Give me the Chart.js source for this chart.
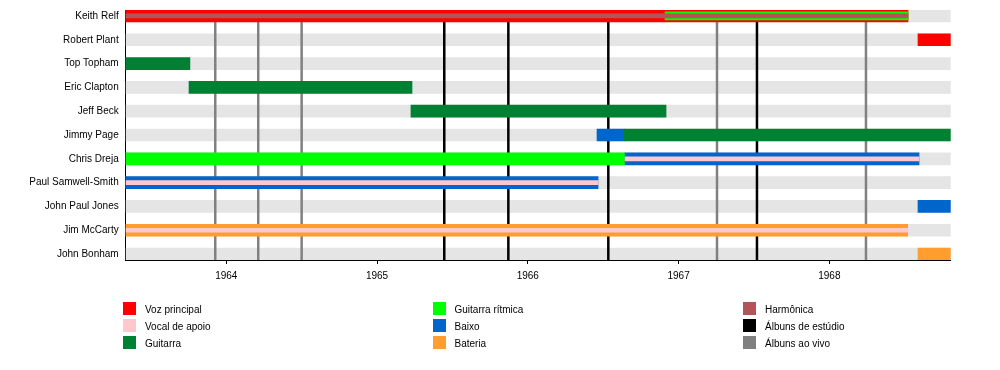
<!DOCTYPE html>
<html>
<head>
<meta charset="utf-8">
<script src="https://cdn.jsdelivr.net/npm/chart.js@4.4.1/dist/chart.umd.min.js"></script>
<style>
  body { margin: 0; background: #fff; font-family: "Liberation Sans", Arial, sans-serif; }
  #wrap { position: relative; width: 1000px; height: 370px; }
  .leg { position: absolute; font-size: 10px; color: #000; line-height: 13px; white-space: nowrap; }
  .leg span { position: absolute; left: 0; top: 0; width: 13px; height: 13px; }
  .leg b { position: absolute; left: 22px; top: 1px; font-weight: normal; }
</style>
</head>
<body>
<div id="wrap">
  <canvas id="chart" width="1000" height="370"></canvas>
</div>
<script>
const members = ['Keith Relf', 'Robert Plant', 'Top Topham', 'Eric Clapton', 'Jeff Beck', 'Jimmy Page',
  'Chris Dreja', 'Paul Samwell-Smith', 'John Paul Jones', 'Jim McCarty', 'John Bonham'];

const START = 1963.333;
const END = 1968.805;
const yearTicks = [1964, 1965, 1966, 1967, 1968];

// álbuns (linhas verticais)
const studioAlbums = [1965.446, 1965.871, 1966.534, 1967.52];
const liveAlbums = [1963.927, 1964.212, 1964.5, 1967.255, 1968.243];

const colors = {
  vocal: '#ff0000',
  backing: '#ffc8cc',
  guitar: '#008033',
  rhythm: '#00ff00',
  bass: '#0066cc',
  drums: '#ff9d2e',
  harmonica: '#b4545a'
};

// barras principais
const mainRow  = [0, 1, 2, 3, 4, 5, 5, 6, 6, 7, 8, 9, 10];
const mainFrom = [START, 1968.588, START, 1963.753, 1965.225, 1966.459, 1966.64, START, 1966.645, START, 1968.588, START, 1968.588];
const mainTo   = [1968.522, END, 1963.759, 1965.232, 1966.917, 1966.64, END, 1966.645, 1968.595, 1966.466, END, 1968.52, END];
const mainRole = ['vocal', 'vocal', 'guitar', 'guitar', 'guitar', 'bass', 'guitar', 'rhythm', 'bass', 'bass', 'bass', 'drums', 'drums'];

// faixa do meio (guitarra rítmica do Keith)
const midRow  = [0];
const midFrom = [1966.91];
const midTo   = [1968.522];
const midRole = ['rhythm'];

// faixa central fina
const innerRow  = [0, 6, 7, 9];
const innerFrom = [START, 1966.645, START, START];
const innerTo   = [1968.522, 1968.595, 1966.466, 1968.52];
const innerRole = ['harmonica', 'backing', 'backing', 'backing'];

const legendLabels = ['Voz principal', 'Vocal de apoio', 'Guitarra', 'Guitarra rítmica', 'Baixo', 'Bateria',
  'Harmônica', 'Álbuns de estúdio', 'Álbuns ao vivo'];
const legendColors = [colors.vocal, colors.backing, colors.guitar, colors.rhythm, colors.bass, colors.drums,
  colors.harmonica, '#000000', '#808080'];

function toPoints(rows, from, to) {
  return rows.map((r, i) => ({ x: [from[i], to[i]], y: r }));
}

// linhas dos álbuns, entre o fundo cinza e as barras
const albumLines = {
  id: 'albumLines',
  afterDatasetDraw(chart, args) {
    if (args.index !== 0) return;
    const { ctx, chartArea, scales: { x } } = chart;
    ctx.save();
    const draw = (vals, color) => {
      ctx.strokeStyle = color;
      ctx.lineWidth = 2.5;
      vals.forEach(v => {
        const px = x.getPixelForValue(v);
        ctx.beginPath();
        ctx.moveTo(px, chartArea.top);
        ctx.lineTo(px, chartArea.bottom);
        ctx.stroke();
      });
    };
    draw(liveAlbums, '#808080');
    draw(studioAlbums, '#000000');
    ctx.restore();
  }
};

new Chart(document.getElementById('chart'), {
  type: 'bar',
  data: {
    datasets: [
      {
        data: toPoints(members.map((m, i) => i), members.map(() => START), members.map(() => END)),
        backgroundColor: '#e5e5e5',
        barThickness: 12,
        order: 10
      },
      {
        data: toPoints(mainRow, mainFrom, mainTo),
        backgroundColor: mainRole.map(r => colors[r]),
        barThickness: 12,
        order: 3
      },
      {
        data: toPoints(midRow, midFrom, midTo),
        backgroundColor: midRole.map(r => colors[r]),
        barThickness: 8,
        order: 2
      },
      {
        data: toPoints(innerRow, innerFrom, innerTo),
        backgroundColor: innerRole.map(r => colors[r]),
        barThickness: 4,
        order: 1
      }
    ]
  },
  options: {
    indexAxis: 'y',
    responsive: false,
    animation: false,
    datasets: { bar: { grouped: false } },
    layout: { padding: { top: 10, right: 49.3, bottom: 0, left: 0 } },
    plugins: { legend: { display: false }, tooltip: { enabled: false } },
    scales: {
      x: {
        type: 'linear',
        min: START,
        max: END,
        offset: false,
        afterBuildTicks: s => { s.ticks = yearTicks.map(v => ({ value: v })); },
        afterFit: s => { s.height = 110; s.paddingLeft = 0; s.paddingRight = 0; },
        ticks: { callback: v => String(v), color: '#000', font: { family: 'Liberation Sans', size: 10 }, padding: 6, maxRotation: 0, autoSkip: false },
        grid: { display: true, drawOnChartArea: false, drawTicks: true, tickLength: 4, color: '#000' },
        border: { display: true, color: '#000', width: 1 }
      },
      y: {
        type: 'linear',
        reverse: true,
        offset: false,
        min: -0.25,
        max: 10.25,
        afterBuildTicks: s => { s.ticks = members.map((m, i) => ({ value: i })); },
        afterFit: s => { s.width = 125.7; s.paddingTop = 0; s.paddingBottom = 0; },
        ticks: { callback: v => members[v], color: '#000', font: { family: 'Liberation Sans', size: 10 }, padding: 7, autoSkip: false },
        grid: { display: false, drawTicks: false },
        border: { display: true, color: '#000', width: 1 }
      }
    }
  },
  plugins: [albumLines]
});

// legenda em três colunas
const legX = [123, 432.5, 743];
const legY = [302, 319, 336];
const wrap = document.getElementById('wrap');
legendLabels.forEach((label, i) => {
  const d = document.createElement('div');
  d.className = 'leg';
  d.style.left = legX[Math.floor(i / 3)] + 'px';
  d.style.top = legY[i % 3] + 'px';
  d.innerHTML = '<span style="background:' + legendColors[i] + '"></span><b></b>';
  d.querySelector('b').textContent = label;
  wrap.appendChild(d);
});
</script>
</body>
</html>
